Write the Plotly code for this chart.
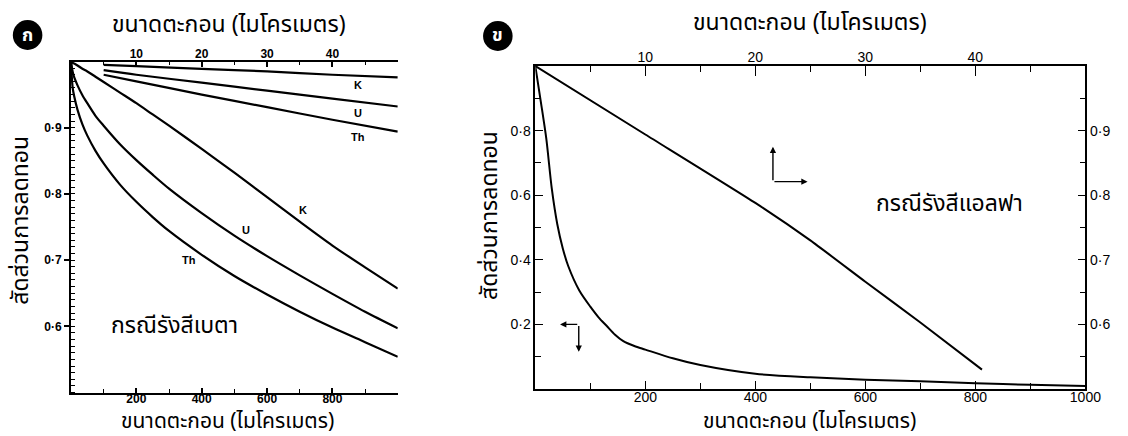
import plotly.graph_objects as go

# ---- panel ก : beta radiation, grain size 0-1000 µm (bottom axis) ----
beta_size = [0, 5, 10, 20, 35, 50, 75, 100, 150, 200, 250, 300, 400, 500, 600, 700, 800, 900, 1000]
beta_k = [1.0, 0.998, 0.997, 0.994, 0.989, 0.985, 0.977, 0.969, 0.953, 0.937, 0.920, 0.903,
          0.868, 0.832, 0.795, 0.758, 0.722, 0.689, 0.657]
beta_u = [1.0, 0.985, 0.976, 0.964, 0.949, 0.937, 0.918, 0.903, 0.875, 0.851, 0.829, 0.808,
          0.771, 0.737, 0.706, 0.677, 0.649, 0.622, 0.597]
beta_th = [1.0, 0.961, 0.947, 0.927, 0.905, 0.888, 0.865, 0.846, 0.814, 0.788, 0.765, 0.744,
           0.708, 0.676, 0.648, 0.622, 0.598, 0.576, 0.554]

# ---- panel ก : beta radiation, fine grains 5-50 µm (top axis) ----
fine_size = [5, 10, 20, 30, 40, 50]
fine_k = [0.995, 0.993, 0.989, 0.985, 0.980, 0.976]
fine_u = [0.987, 0.980, 0.968, 0.956, 0.944, 0.932]
fine_th = [0.980, 0.970, 0.950, 0.931, 0.912, 0.894]

# ---- panel ข : alpha radiation ----
alpha_size = [0, 10, 20, 30, 40, 50, 60, 80, 100, 115, 130, 145, 160, 180, 200, 250, 300,
              400, 500, 600, 700, 800, 900, 1000]
alpha_coarse = [1.0, 0.89, 0.775, 0.62, 0.51, 0.435, 0.38, 0.305, 0.255, 0.222, 0.195, 0.168,
                0.148, 0.133, 0.122, 0.095, 0.074, 0.047, 0.036, 0.029, 0.024, 0.018, 0.013, 0.009]
alpha_fine_size = [0, 10, 20, 25, 30, 35, 40.6]
alpha_fine = [1.0, 0.894, 0.788, 0.730, 0.666, 0.603, 0.530]

# tick labels
beta_left_vals = [0.6, 0.7, 0.8, 0.9]
beta_left_text = ["0·6", "0·7", "0·8", "0·9"]
beta_right_vals = [0.1, 0.2, 0.3, 0.4]
beta_right_text = ["0·1", "0·2", "0·3", "0·4"]
size_vals = [200, 400, 600, 800]
micron_vals = [10, 20, 30, 40]
alpha_left_vals = [0.2, 0.4, 0.6, 0.8]
alpha_left_text = ["0·2", "0·4", "0·6", "0·8"]
alpha_right_vals = [0.6, 0.7, 0.8, 0.9]
alpha_right_text = ["0·6", "0·7", "0·8", "0·9"]
alpha_bottom_vals = [200, 400, 600, 800, 1000]

TITLE_X = "ขนาดตะกอน (ไมโครเมตร)"
TITLE_Y = "สัดส่วนการลดทอน"

W, H = 1128, 436
THAI = "Noto Sans Thai, Noto Sans Thai Looped, Loma, Garuda, Noto Sans, sans-serif"
NUM = "Liberation Sans, Arial, sans-serif"

fig = go.Figure()
line = dict(color="black", width=2.2, shape="spline", smoothing=0.8)

for ys in (beta_k, beta_u, beta_th):
    fig.add_trace(go.Scatter(x=beta_size, y=ys, xaxis="x", yaxis="y", mode="lines", line=line))
for ys in (fine_k, fine_u, fine_th):
    fig.add_trace(go.Scatter(x=fine_size, y=ys, xaxis="x2", yaxis="y", mode="lines", line=line))

fig.add_trace(go.Scatter(x=alpha_size, y=alpha_coarse, xaxis="x3", yaxis="y3", mode="lines",
                         line=dict(color="black", width=2, shape="spline", smoothing=0.8)))
fig.add_trace(go.Scatter(x=alpha_fine_size, y=alpha_fine, xaxis="x4", yaxis="y4", mode="lines",
                         line=dict(color="black", width=2, shape="spline", smoothing=0.5)))

dom_l_x = [72 / W, 403.5 / W]
dom_l_y = [1 - 392.5 / H, 1 - 61.5 / H]
dom_r_x = [543 / W, 1101 / W]
dom_r_y = [1 - 389 / H, 1 - 66 / H]

bold_tick = dict(family=NUM, size=12, color="black", weight="bold")
plain_tick = dict(family=NUM, size=14, color="black")

def minor(dtick, length, tick0=0):
    return dict(ticks="inside", tickmode="linear", tick0=tick0, dtick=dtick,
                ticklen=length, tickcolor="black", tickwidth=1.2)

common = dict(showgrid=False, zeroline=False, showline=True, linecolor="black",
              tickcolor="black", fixedrange=True)

fig.update_layout(
    width=W, height=H, margin=dict(l=0, r=0, t=0, b=0),
    paper_bgcolor="white", plot_bgcolor="white", showlegend=False,
    xaxis=dict(common, domain=dom_l_x, range=[0, 1000], anchor="y", side="bottom",
               linewidth=2, tickmode="array", tickvals=size_vals,
               ticks="inside", ticklen=5, tickwidth=1.5, tickfont=bold_tick,
               ticklabelstandoff=-6, minor=minor(100, 4)),
    xaxis2=dict(common, overlaying="x", range=[0, 50], anchor="y", side="top",
                linewidth=2, tickmode="array", tickvals=micron_vals,
                ticks="inside", ticklen=5, tickwidth=1.5, tickfont=bold_tick,
                ticklabelstandoff=-3, minor=minor(5, 3)),
    yaxis=dict(common, domain=dom_l_y, range=[0.5, 1.0], anchor="x", side="left",
               linewidth=2, tickmode="array", tickvals=beta_left_vals, ticktext=beta_left_text,
               ticks="outside", ticklen=5, tickwidth=1.5, tickfont=bold_tick,
               minor=minor(0.01, 4)),
    yaxis2=dict(common, overlaying="y", range=[0.5, 0.0], anchor="x", side="right",
                linewidth=2, tickmode="array", tickvals=beta_right_vals, ticktext=beta_right_text,
                ticks="outside", ticklen=3, tickwidth=1.5, tickfont=bold_tick,
                minor=minor(0.01, 4)),
    xaxis3=dict(common, domain=dom_r_x, range=[0, 1000], anchor="y3", side="bottom",
                linewidth=1.6, tickmode="array", tickvals=alpha_bottom_vals,
                ticks="inside", ticklen=8, tickwidth=1.3, tickfont=plain_tick,
                ticklabelstandoff=-6, minor=minor(100, 6)),
    xaxis4=dict(common, overlaying="x3", range=[0, 50], anchor="y3", side="top",
                linewidth=1.6, tickmode="array", tickvals=micron_vals,
                ticks="inside", ticklen=10, tickwidth=1.3, tickfont=plain_tick,
                ticklabelstandoff=-3, minor=minor(5, 6)),
    yaxis3=dict(common, domain=dom_r_y, range=[0, 1.0], anchor="x3", side="left",
                linewidth=1.6, tickmode="array", tickvals=alpha_left_vals, ticktext=alpha_left_text,
                ticks="inside", ticklen=8, tickwidth=1.3, tickfont=plain_tick,
                minor=minor(0.1, 6)),
    yaxis4=dict(common, overlaying="y3", range=[0.5, 1.0], anchor="x3", side="right",
                linewidth=1.6, tickmode="array", tickvals=alpha_right_vals, ticktext=alpha_right_text,
                ticks="inside", ticklen=8, tickwidth=1.3, tickfont=plain_tick,
                minor=minor(0.05, 6)),
)

title_font = dict(family=THAI, size=23, color="black")
bottom_font = dict(family=THAI, size=21, color="black")
ann = []

def paper_text(text, px, py, font, angle=0):
    ann.append(dict(text=text, x=px / W, y=1 - py / H, xref="paper", yref="paper",
                    xanchor="center", yanchor="middle", showarrow=False, font=font,
                    textangle=angle, borderpad=0))

paper_text(TITLE_X, 232, 25, title_font)
paper_text(TITLE_X, 231, 421.5, bottom_font)
paper_text(TITLE_Y, 21, 220, title_font, -90)
paper_text(TITLE_X, 822, 23, title_font)
paper_text(TITLE_X, 821, 421.5, bottom_font)
paper_text(TITLE_Y, 497, 215, title_font, -90)

# curve names in panel ก
name_font = dict(family=NUM, size=11, color="black", weight="bold")
for txt, xv, yv, xr in [("K", 709, 0.776, "x"), ("U", 537, 0.745, "x"), ("Th", 362, 0.700, "x"),
                        ("K", 43.9, 0.9645, "x2"), ("U", 43.9, 0.922, "x2"), ("Th", 43.9, 0.886, "x2")]:
    ann.append(dict(text=txt, x=xv, y=yv, xref=xr, yref="y", showarrow=False, font=name_font))

case_font = dict(family=THAI, size=23, color="black")
ann.append(dict(text="กรณีรังสีเบตา", x=115, y=0.6, xref="x", yref="y", xanchor="left",
                yanchor="middle", showarrow=False, font=case_font))
ann.append(dict(text="กรณีรังสีแอลฟา", x=616, y=0.787, xref="x3", yref="y4", xanchor="left",
                yanchor="middle", showarrow=False, font=case_font))

# axis-key arrows in panel ข
def arrow(x, y, ax, ay):
    ann.append(dict(text="", x=x, y=y, ax=ax, ay=ay, xref="x3", yref="y3", axref="x3", ayref="y3",
                    showarrow=True, arrowhead=2, arrowsize=0.9, arrowwidth=1.4, arrowcolor="black"))

arrow(432, 0.75, 432, 0.642)
arrow(495, 0.642, 432, 0.642)
arrow(45, 0.2, 79, 0.2)
arrow(79, 0.115, 79, 0.2)

# panel badges
shapes = []
for ch, cx, cy in [("ก", 28, 35), ("ข", 505, 36)]:
    r = 15
    shapes.append(dict(type="circle", xref="paper", yref="paper",
                       x0=(cx - r) / W, x1=(cx + r) / W, y0=1 - (cy + r) / H, y1=1 - (cy - r) / H,
                       fillcolor="black", line=dict(color="black", width=0)))
    paper_text(ch, cx, cy, dict(family=THAI, size=18, color="white", weight="bold"))

fig.update_layout(annotations=ann, shapes=shapes)
fig.write_html("out.html")
